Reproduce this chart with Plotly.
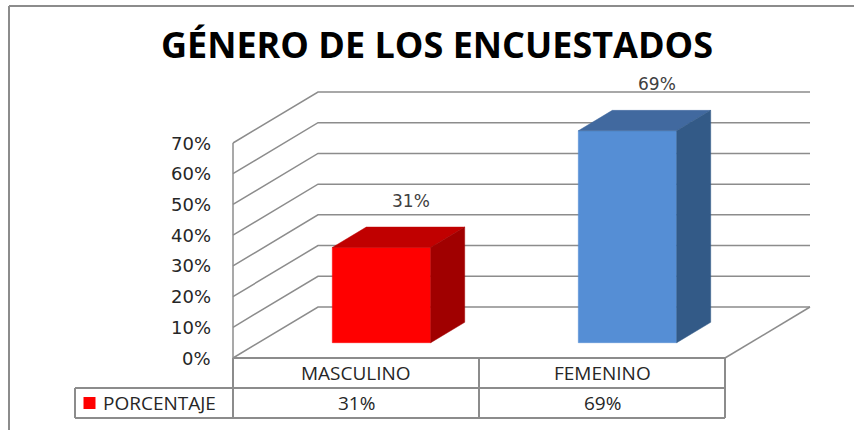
import plotly.graph_objects as go

# ---------------- data ----------------
categories = ["MASCULINO", "FEMENINO"]
values = [31, 69]
value_labels = ["31%", "69%"]
series_name = "PORCENTAJE"
tick_values = [0, 10, 20, 30, 40, 50, 60, 70]
tick_labels = ["0%", "10%", "20%", "30%", "40%", "50%", "60%", "70%"]
title_text = "GÉNERO DE LOS ENCUESTADOS"

front_colors = ["#FF0000", "#558ED5"]
top_colors = ["#C00000", "#41699F"]
side_colors = ["#A00000", "#335A87"]

# ---------------- geometry (pixel mapping) ----------------
W, H = 854, 430
ORIGIN_X = 233.0          # px of front-left axis
ORIGIN_Y = 358.0          # px (from top) of 0% on front plane
SX = 246.0                # px per category unit
SY = (358.0 - 143.0) / 70.0   # px per percent unit
DX = 85.0 / SX            # depth offset in x units for full depth
DY = 51.0 / SY            # depth offset in y units for full depth
ROW = 30.0 / SY           # table row height in y units
LEG_LEFT = (75.0 - ORIGIN_X) / SX

x_range = [(0 - ORIGIN_X) / SX, (W - ORIGIN_X) / SX]
y_range = [(ORIGIN_Y - H) / SY, ORIGIN_Y / SY]

n = len(categories)
ymax = tick_values[-1]
grid_col = "#8C8C8C"


def proj(x, y, d):
    return x + d * DX, y + d * DY


fig = go.Figure()

# gridlines: side wall + back wall
gx, gy = [], []
for v in tick_values:
    for (x, d) in [(0, 0), (0, 1), (n, 1)]:
        px_, py_ = proj(x, v, d)
        gx.append(px_)
        gy.append(py_)
    gx.append(None)
    gy.append(None)
# front-left vertical edge
for (x, y, d) in [(0, 0, 0), (0, ymax, 0)]:
    px_, py_ = proj(x, y, d)
    gx.append(px_)
    gy.append(py_)
gx.append(None)
gy.append(None)
# floor right edge
for (x, y, d) in [(n, 0, 0), (n, 0, 1)]:
    px_, py_ = proj(x, y, d)
    gx.append(px_)
    gy.append(py_)
fig.add_trace(go.Scatter(x=gx, y=gy, mode="lines",
                         line=dict(color=grid_col, width=1.5),
                         hoverinfo="skip", showlegend=False))

# bars
half_w = 0.2
d0, d1 = 0.3, 0.7
for i, (cat, v) in enumerate(zip(categories, values)):
    c = i + 0.5
    faces = [
        ([(c - half_w, 0, d0), (c + half_w, 0, d0), (c + half_w, v, d0), (c - half_w, v, d0)], front_colors[i]),
        ([(c - half_w, v, d0), (c + half_w, v, d0), (c + half_w, v, d1), (c - half_w, v, d1)], top_colors[i]),
        ([(c + half_w, 0, d0), (c + half_w, 0, d1), (c + half_w, v, d1), (c + half_w, v, d0)], side_colors[i]),
    ]
    for pts, col in faces:
        xs, ys = zip(*[proj(*p) for p in pts])
        fig.add_trace(go.Scatter(x=list(xs) + [xs[0]], y=list(ys) + [ys[0]],
                                 mode="lines", fill="toself", fillcolor=col,
                                 line=dict(color=col, width=0.5),
                                 hoverinfo="skip", showlegend=False))
    lx, ly = proj(c, v, 0.65)
    fig.add_annotation(x=lx, y=ly, text=value_labels[i], showarrow=False,
                       yshift=29, font=dict(family="DejaVu Sans", size=17, color="#404040"))

# table lines
tx, ty = [], []
segs = [
    [(0, 0), (n, 0)],
    [(LEG_LEFT, -ROW), (n, -ROW)],
    [(LEG_LEFT, -2 * ROW), (n, -2 * ROW)],
    [(LEG_LEFT, -ROW), (LEG_LEFT, -2 * ROW)],
]
for k in range(n + 1):
    segs.append([(k, 0), (k, -2 * ROW)])
for s in segs:
    for p in s:
        tx.append(p[0])
        ty.append(p[1])
    tx.append(None)
    ty.append(None)
fig.add_trace(go.Scatter(x=tx, y=ty, mode="lines",
                         line=dict(color=grid_col, width=2),
                         hoverinfo="skip", showlegend=False))

table_font = dict(family="Open Sans", size=19, color="#262626")
for i, cat in enumerate(categories):
    fig.add_annotation(x=i + 0.5, y=-ROW / 2, text=cat, showarrow=False, font=table_font)
    fig.add_annotation(x=i + 0.5, y=-1.5 * ROW, text=value_labels[i], showarrow=False, font=table_font)

# legend key
fig.add_trace(go.Scatter(x=[(89.5 - ORIGIN_X) / SX], y=[-1.5 * ROW], mode="markers",
                         marker=dict(symbol="square", size=12, color=front_colors[0]),
                         hoverinfo="skip", showlegend=False))
fig.add_annotation(x=(101 - ORIGIN_X) / SX, y=-1.5 * ROW, text=series_name, showarrow=False,
                   xanchor="left", font=table_font)

# y tick labels
for v, t in zip(tick_values, tick_labels):
    fig.add_annotation(x=(213 - ORIGIN_X) / SX, y=v, text=t, showarrow=False, xanchor="right",
                       font=dict(family="DejaVu Sans", size=18, color="#262626"))

# outer frame
fig.add_shape(type="line", xref="paper", yref="paper", x0=9 / W, y0=0, x1=9 / W, y1=1 - 6 / H,
              line=dict(color="#8C8C8C", width=2))
fig.add_shape(type="line", xref="paper", yref="paper", x0=9 / W, y0=1 - 6 / H, x1=1, y1=1 - 6 / H,
              line=dict(color="#8C8C8C", width=2))

fig.update_layout(
    width=W, height=H,
    margin=dict(l=0, r=0, t=0, b=0),
    paper_bgcolor="white", plot_bgcolor="white",
    title=dict(text="<b>" + title_text + "</b>", x=437 / W, y=1 - 45 / H,
               xanchor="center", yanchor="middle",
               font=dict(family="Open Sans", size=36, color="black")),
    xaxis=dict(range=x_range, visible=False, fixedrange=True),
    yaxis=dict(range=y_range, visible=False, fixedrange=True),
    showlegend=False,
)

fig.write_html("out.html", config={"displayModeBar": False},
               post_script="document.body.style.margin='0';")
